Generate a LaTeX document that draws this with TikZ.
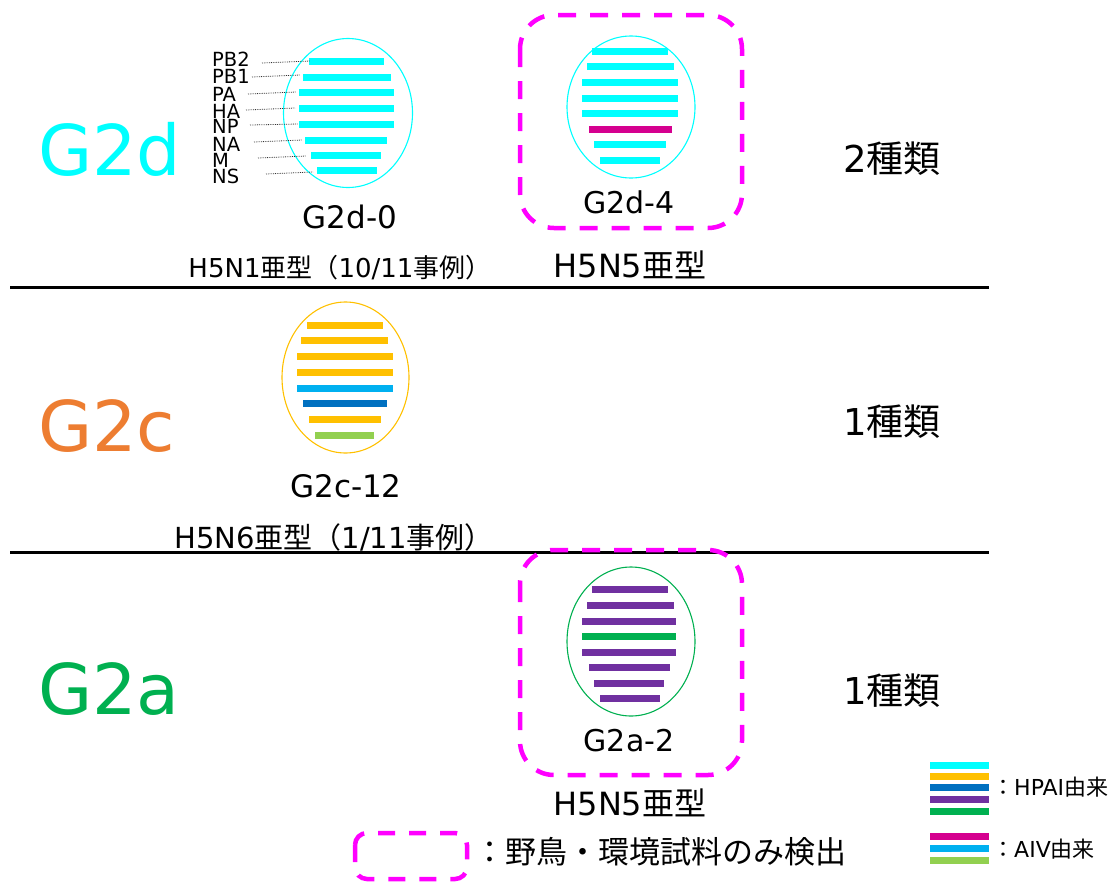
\documentclass[tikz,border=0pt]{standalone}
\usepackage{fontspec}
\setmainfont{DejaVu Sans}
\newfontfamily\jp{Noto Sans CJK JP}
\usetikzlibrary{shapes.geometric}
\definecolor{cy}{HTML}{00FFFF}
\definecolor{org}{HTML}{FFC000}
\definecolor{dblue}{HTML}{0070C0}
\definecolor{lblue}{HTML}{00B0F0}
\definecolor{purp}{HTML}{7030A0}
\definecolor{grn}{HTML}{00B050}
\definecolor{lgrn}{HTML}{92D050}
\definecolor{mag}{HTML}{D5008F}
\definecolor{pink}{HTML}{FF00FF}
\definecolor{orng}{HTML}{ED7D31}
\newcommand{\fsz}[1]{\fontsize{#1}{#1}\selectfont}
\tikzset{
  bar/.style={line width=7pt},
  oval/.style={ellipse, draw, line width=1.1pt, inner sep=0pt},
  dbox/.style={draw=pink, line width=4.5pt, dash pattern=on 18pt off 14pt, rounded corners=34pt},
  lead/.style={densely dotted, line width=0.8pt, black!80},
  seglab/.style={anchor=base west, inner sep=0pt, font=\fsz{19.5}},
  big/.style={anchor=base west, inner sep=0pt, font=\fsz{70}},
  txt/.style={anchor=base, inner sep=0pt},
}
\begin{document}
\begin{tikzpicture}[x=1pt,y=-1pt]
\useasboundingbox (0,0) rectangle (1119,881);
% separator lines
\draw[line width=3pt] (10,287) -- (989,287);
\draw[line width=3pt] (10,552) -- (989,552);
% big group labels
\node[big, text=cy] (g2d) at (38,175) {G2d};
\node[big, text=orng] (g2c) at (38,451) {G2c};
\node[big, text=grn] (g2a) at (38,714) {G2a};
% counts
\node[txt, font=\fsz{37}] (c1) at (892,172) {2{\jp 種類}};
\node[txt, font=\fsz{37}] (c2) at (892,435) {1{\jp 種類}};
\node[txt, font=\fsz{37}] (c3) at (892,704) {1{\jp 種類}};
% ---- G2d-0
\node[oval, draw=cy, minimum width=129pt, minimum height=149pt] (e0) at (348,113) {};
\foreach \a/\b/\y in {309/384/61, 303/391/77, 299/394/92, 299/394/108, 299/394/124, 305/387/140, 311/381/155, 317/377/170}
  \draw[bar, cy] (\a,\y) -- (\b,\y);
\foreach \n/\t/\by/\la/\lb/\ly/\lyy in {PB2/PB2/66/262/310/63/61, PB1/PB1/83/252/300/77/75, PA/PA/101/248/296/94/92, HA/HA/118/246/295/110/108, NP/NP/133/250/298/125/124, NA/NA/151/254/302/142/140, M/M/167/258/306/158/156, NS/NS/183/266/313/174/172}{
  \node[seglab] (l\n) at (212,\by) {\t};
  \coordinate (s\n) at (\lb,\lyy);
  \draw[lead] (\la,\ly) -- (s\n);
}
\node[txt, font=\fsz{31}] (n0) at (350,228) {G2d-0};
\node[txt, font=\fsz{26}] (h0) at (340,277) {H5N1{\jp 亜型（}10/11{\jp 事例）}};
% ---- G2d-4
\draw[dbox] (520,15) rectangle (742,228);
\node[oval, draw=cy, minimum width=128pt, minimum height=142pt] (e4) at (631,107) {};
\foreach \a/\b/\y/\c in {592/668/51/cy, 587/674/66/cy, 582/678/82/cy, 582/678/98/cy, 582/678/113/cy, 589/672/129/mag, 594/666/144/cy, 600/660/160/cy}
  \draw[bar, \c] (\a,\y) -- (\b,\y);
\node[txt, font=\fsz{30}] (n4) at (629,213) {G2d-4};
\node[txt, font=\fsz{32}] (h4) at (630,277) {H5N5{\jp 亜型}};
% ---- G2c-12
\node[oval, draw=org, minimum width=127pt, minimum height=151pt] (e12) at (345.5,377.5) {};
\foreach \a/\b/\y/\c in {307/383/325/org, 301/388/340/org, 297/393/356/org, 297/393/372/org, 297/393/388/lblue, 303/387/403/dblue, 309/381/419/org, 315/374/435/lgrn}
  \draw[bar, \c] (\a,\y) -- (\b,\y);
\node[txt, font=\fsz{31}] (n12) at (346,497) {G2c-12};
\node[txt, font=\fsz{29}] (h12) at (334,548) {H5N6{\jp 亜型（}1/11{\jp 事例）}};
% ---- G2a-2
\draw[dbox] (520,550) rectangle (742,775);
\node[oval, draw=grn, minimum width=128pt, minimum height=149pt] (e2) at (631,641.5) {};
\foreach \a/\b/\y/\c in {592/668/589/purp, 587/674/605/purp, 582/676/621/purp, 582/676/636/grn, 582/676/652/purp, 589/670/667/purp, 594/664/683/purp, 600/660/698/purp}
  \draw[bar, \c] (\a,\y) -- (\b,\y);
\node[txt, font=\fsz{30}] (n2) at (629,751) {G2a-2};
\node[txt, font=\fsz{32}] (h2) at (630,815) {H5N5{\jp 亜型}};
% ---- legend: dashed box
\draw[draw=pink, line width=4.5pt, dash pattern=on 17pt off 14pt, rounded corners=12pt] (355,833) rectangle (467,879);
\node[anchor=base west, inner sep=0pt, font=\fsz{31}] (lg1) at (474,863) {\jp ：野鳥・環境試料のみ検出};
% ---- legend: colours
\foreach \y/\c in {765/cy, 776/org, 787/dblue, 799/purp, 811/grn, 836/mag, 848/lblue, 860/lgrn}
  \draw[bar, \c] (930,\y) -- (989,\y);
\node[anchor=base west, inner sep=0pt, font=\fsz{22}] (lg2) at (992,795) {{\jp ：}HPAI{\jp 由来}};
\node[anchor=base west, inner sep=0pt, font=\fsz{22}] (lg3) at (992,857) {{\jp ：}AIV{\jp 由来}};
\end{tikzpicture}
\end{document}
